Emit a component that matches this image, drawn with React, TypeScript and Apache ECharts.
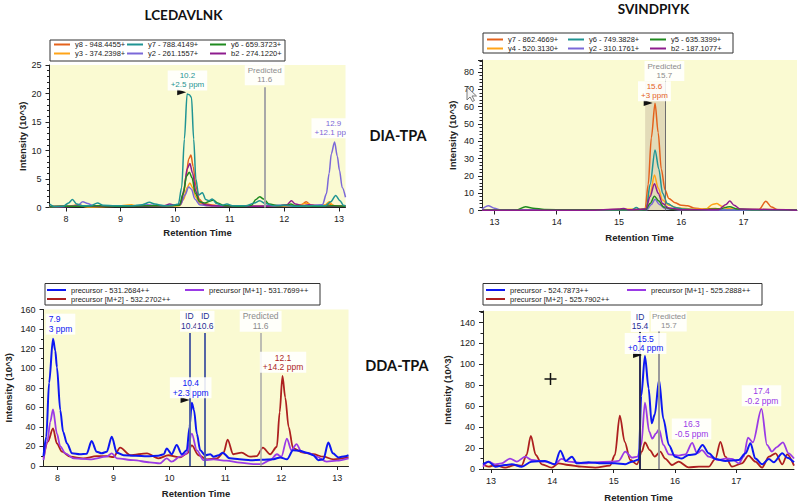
import React, { useEffect, useRef } from "react";
import * as echarts from "echarts";

type Pt = [number, number];
const FONT = '"Liberation Sans", Arial, sans-serif';
const TITLE_FONT = 'Lato, "Open Sans", sans-serif';

// ---------- Panel 1: DIA-TPA, LCEDAVLNK ----------
const p1Names = ["y8 - 948.4455+", "y3 - 374.2398+", "y7 - 788.4149+", "y2 - 261.1557+", "y6 - 659.3723+", "b2 - 274.1220+"];
const p1_y8: Pt[] = [[7.7,0.2],[7.9,0.3],[8.1,0.2],[8.22,0.5],[8.35,0.2],[8.7,0.2],[9.0,0.3],[9.3,0.2],[9.6,0.3],[9.9,0.3],[10.08,0.4],[10.15,2.2],[10.2,5.5],[10.25,8.5],[10.29,9.2],[10.33,7.2],[10.38,3.8],[10.44,1.5],[10.52,0.7],[10.65,0.5],[10.8,0.3],[11.2,0.2],[11.6,0.3],[12.0,0.2],[12.3,0.4],[12.4,1.0],[12.48,0.5],[12.7,0.2],[12.83,0.6],[12.92,0.3],[13.12,0.2]];
const p1_y3: Pt[] = [[7.7,0.1],[8.0,0.2],[8.2,0.4],[8.4,0.1],[8.9,0.2],[9.2,0.5],[9.3,0.2],[9.8,0.2],[10.08,0.3],[10.16,1.5],[10.22,3.5],[10.27,4.3],[10.32,3.5],[10.38,1.8],[10.45,0.7],[10.6,0.3],[11.0,0.2],[11.6,0.2],[12.2,0.3],[12.4,0.7],[12.55,0.3],[12.75,0.5],[12.82,1.0],[12.9,0.3],[13.12,0.2]];
const p1_y7: Pt[] = [[7.7,0.6],[7.78,0.2],[7.95,0.2],[8.05,0.8],[8.12,1.4],[8.2,0.6],[8.3,0.3],[8.45,0.3],[8.58,0.8],[8.68,0.4],[8.9,0.3],[9.2,0.3],[9.4,0.5],[9.53,0.9],[9.63,0.6],[9.8,0.3],[9.95,0.4],[10.06,0.6],[10.12,3.5],[10.17,12],[10.22,19.9],[10.26,19.8],[10.3,19.3],[10.34,12],[10.38,5],[10.43,2.2],[10.5,2.6],[10.56,1.4],[10.62,1.2],[10.68,1.5],[10.76,0.7],[10.85,0.4],[10.95,0.6],[11.05,0.3],[11.3,0.3],[11.45,0.8],[11.55,1.2],[11.65,0.7],[11.8,0.3],[12.0,0.4],[12.2,0.2],[12.5,0.3],[12.75,0.3],[12.85,1.0],[12.94,2.1],[13.02,1.2],[13.08,0.4],[13.12,0.3]];
const p1_y2: Pt[] = [[7.7,0.1],[8.1,0.2],[8.22,0.4],[8.31,1.0],[8.4,0.7],[8.5,0.3],[8.8,0.2],[9.2,0.2],[9.5,0.5],[9.6,0.4],[9.9,0.3],[10.1,0.5],[10.18,2.2],[10.25,3.6],[10.3,3.2],[10.36,1.5],[10.45,0.5],[10.6,0.3],[11.0,0.2],[11.5,0.2],[11.9,0.4],[12.2,0.3],[12.5,0.4],[12.7,0.5],[12.77,2.4],[12.82,6],[12.86,9.4],[12.92,11.5],[12.97,9],[13.01,6.5],[13.06,3.5],[13.12,1.8]];
const p1_y6: Pt[] = [[7.7,0.1],[8.0,0.2],[8.3,0.2],[8.6,0.3],[9.0,0.2],[9.5,0.3],[9.9,0.3],[10.08,0.4],[10.15,2.5],[10.21,5.5],[10.26,6.2],[10.31,5.2],[10.37,2.5],[10.45,1.0],[10.55,0.8],[10.63,1.1],[10.7,1.3],[10.78,0.8],[10.9,0.3],[11.2,0.2],[11.4,0.4],[11.48,1.4],[11.55,1.9],[11.62,1.5],[11.72,0.6],[11.9,0.3],[12.05,0.4],[12.12,0.6],[12.2,0.3],[12.6,0.2],[12.9,0.3],[13.12,0.2]];
const p1_b2: Pt[] = [[7.7,0.1],[8.2,0.2],[8.6,0.2],[9.0,0.3],[9.4,0.2],[9.8,0.3],[9.9,0.6],[10.0,0.4],[10.1,0.6],[10.16,3],[10.22,6.8],[10.27,7.7],[10.32,6],[10.38,2.8],[10.45,1.0],[10.55,0.5],[10.7,0.3],[11.0,0.2],[11.6,0.2],[11.9,0.3],[12.05,0.5],[12.13,1.2],[12.2,0.6],[12.35,0.3],[12.45,0.5],[12.6,0.2],[13.12,0.2]];

// ---------- Panel 2: DIA-TPA, SVINDPIYK ----------
const p2Names = ["y7 - 862.4669+", "y4 - 520.3130+", "y6 - 749.3828+", "y2 - 310.1761+", "y5 - 635.3399+", "b2 - 187.1077+"];
const p2_y7: Pt[] = [[12.8,0.3],[13.5,0.3],[14.5,0.4],[15.3,0.3],[15.42,1],[15.47,15],[15.52,42],[15.58,62],[15.63,45],[15.68,24],[15.74,12],[15.8,7],[15.9,4.5],[16.0,3],[16.1,2.8],[16.2,1.5],[16.35,0.8],[16.55,1.2],[16.7,0.6],[17.0,0.4],[17.25,0.5],[17.36,5.3],[17.45,2],[17.55,0.5],[17.86,0.3]];
const p2_y4: Pt[] = [[12.8,0.3],[13.7,0.4],[14.5,0.3],[15.42,0.8],[15.5,9],[15.57,20.5],[15.63,13],[15.7,6],[15.8,3],[15.95,1.5],[16.2,0.7],[16.4,0.8],[16.5,3.5],[16.57,4],[16.65,2.5],[16.75,1],[17.0,0.6],[17.86,0.3]];
const p2_y6: Pt[] = [[12.8,0.2],[13.6,0.3],[15.2,0.3],[15.28,1.7],[15.34,0.4],[15.44,1],[15.5,15],[15.58,35],[15.64,24],[15.7,10],[15.78,4],[15.9,1.8],[16.05,0.8],[16.3,0.4],[17.86,0.2]];
const p2_y2: Pt[] = [[12.8,0.8],[12.9,2.8],[13.0,1.3],[13.1,0.3],[15.45,0.5],[15.52,3.5],[15.58,6.5],[15.65,3.5],[15.75,1],[16.0,0.3],[17.86,0.2]];
const p2_y5: Pt[] = [[12.8,0.1],[13.35,0.3],[13.5,2.2],[13.62,1.3],[13.8,0.6],[14.2,0.4],[15.43,0.5],[15.5,4],[15.57,8.2],[15.64,5.5],[15.72,2],[15.85,0.7],[16.2,0.3],[16.6,0.8],[16.78,2.2],[16.9,0.8],[17.2,0.5],[17.86,0.3]];
const p2_b2: Pt[] = [[12.8,0.2],[14.5,0.2],[15.0,0.8],[15.08,1.2],[15.15,0.4],[15.43,0.8],[15.5,8],[15.57,15.5],[15.63,10],[15.7,4],[15.8,1.5],[16.0,0.5],[16.6,0.5],[16.72,3.5],[16.78,5.5],[16.85,3],[16.95,0.8],[17.86,0.2]];

// ---------- Panel 3: DDA-TPA, LCEDAVLNK ----------
const p3Names = ["precursor - 531.2684++", "precursor [M+2] - 532.2702++", "precursor [M+1] - 531.7699++"];
const p3_m0: Pt[] = [[7.75,10],[7.8,30],[7.85,85],[7.92,130],[7.96,118],[7.99,101],[8.05,57],[8.1,35],[8.17,23],[8.26,13],[8.4,12],[8.52,12.5],[8.61,25.5],[8.7,14.6],[8.79,13],[8.88,14.6],[8.97,30],[9.06,13.6],[9.18,11],[9.4,10.5],[9.6,10],[9.8,10.5],[9.9,12],[9.95,18],[10.04,12],[10.13,21.4],[10.22,12],[10.31,16],[10.36,40],[10.4,64.6],[10.44,57],[10.49,33],[10.55,16],[10.64,11],[10.73,12],[10.79,9.5],[10.88,11],[10.95,13.6],[11.08,7.8],[11.25,7],[11.45,6],[11.65,6.5],[11.86,7],[11.98,8.8],[12.1,6.8],[12.21,16],[12.33,15.6],[12.45,13.6],[12.57,11],[12.66,6],[12.75,6.8],[12.84,24],[12.92,13],[13.02,8.8],[13.14,10],[13.2,11]];
const p3_m1: Pt[] = [[7.75,6],[7.82,25],[7.87,45],[7.92,57.8],[7.99,33],[8.05,20],[8.14,13],[8.29,7.8],[8.58,6.8],[8.88,9.5],[8.97,13],[9.06,7.8],[9.36,6],[9.65,3.7],[9.83,2.7],[9.95,7.8],[10.04,4.4],[10.19,9.5],[10.31,13],[10.4,33],[10.49,16],[10.61,6],[10.79,6.8],[11.02,5.4],[11.26,3.4],[11.5,2],[11.65,2],[11.8,6],[11.92,12],[12.0,9.5],[12.1,28],[12.18,16],[12.27,22.4],[12.36,14.6],[12.51,13],[12.63,9.5],[12.81,4.4],[12.99,5.4],[13.2,7.8]];
const p3_m2: Pt[] = [[7.75,7.8],[7.83,25],[7.92,38.4],[7.99,23],[8.08,14.6],[8.23,9.5],[8.46,7.8],[8.7,10],[8.88,10],[9.0,9],[9.12,18.7],[9.3,11],[9.6,13],[9.8,7.8],[9.98,11],[10.19,8.8],[10.32,13],[10.4,21],[10.52,11],[10.67,6.8],[10.85,7.8],[10.97,14],[11.04,27],[11.14,12],[11.29,13.6],[11.44,9.5],[11.56,10],[11.67,18.7],[11.8,12],[11.92,19.7],[11.97,55],[12.02,92],[12.07,70],[12.13,40],[12.21,18],[12.39,13.6],[12.57,12],[12.75,9.5],[12.93,6.8],[13.2,8.8]];

// ---------- Panel 4: DDA-TPA, SVINDPIYK ----------
const p4Names = ["precursor - 524.7873++", "precursor [M+2] - 525.7902++", "precursor [M+1] - 525.2888++"];
const p4_m0: Pt[] = [[12.87,4.5],[12.96,7],[13.07,2.2],[13.23,3.8],[13.34,4.5],[13.5,2.2],[13.66,7],[13.88,7.7],[14.04,4.5],[14.13,17.5],[14.22,7.7],[14.32,11.8],[14.4,5.4],[14.59,6.4],[14.81,5.4],[15.02,5.4],[15.19,4.5],[15.3,7],[15.41,9],[15.45,70],[15.51,108],[15.57,77],[15.62,43.7],[15.67,52],[15.74,85],[15.81,48],[15.9,23],[16.0,11.8],[16.11,10],[16.22,13.4],[16.33,14],[16.45,23],[16.55,15],[16.66,9.6],[16.82,7.7],[17.04,8.6],[17.15,15],[17.23,24.5],[17.31,10],[17.42,4.5],[17.53,9.6],[17.61,6.4],[17.75,15],[17.83,10.8],[17.94,6.4]];
const p4_m1: Pt[] = [[12.87,2.2],[12.96,7],[13.07,4.5],[13.17,5.4],[13.31,10],[13.42,7],[13.56,11.8],[13.66,8.6],[13.88,7],[14.04,4.5],[14.15,9.6],[14.26,7],[14.53,5.4],[14.7,6.4],[14.97,7],[15.08,7.7],[15.19,16.6],[15.3,10.8],[15.39,11.8],[15.45,23],[15.51,63.5],[15.58,35.7],[15.63,29],[15.69,34],[15.74,38],[15.81,23],[15.9,14],[16.06,12.8],[16.17,14],[16.28,25],[16.36,15],[16.44,18],[16.55,11.8],[16.71,8.6],[16.82,10],[16.93,9.6],[17.04,5.4],[17.12,11.8],[17.19,30],[17.27,25.5],[17.41,57.4],[17.5,23],[17.58,16.6],[17.66,21],[17.76,25.5],[17.85,15],[17.94,10]];
const p4_m2: Pt[] = [[12.87,4.5],[12.96,2.2],[13.07,3.8],[13.23,1.3],[13.39,3.8],[13.5,3.2],[13.58,13.4],[13.65,31.6],[13.73,13.4],[13.83,4.5],[13.99,1.3],[14.1,5.4],[14.26,3.8],[14.48,2.2],[14.7,1.3],[14.94,3.2],[15.02,13.4],[15.1,51],[15.18,26],[15.27,8.6],[15.38,4.5],[15.46,16.6],[15.51,25.5],[15.59,18],[15.67,11.8],[15.76,16.6],[15.84,10],[15.95,3.8],[16.06,7],[16.22,1.6],[16.39,2.2],[16.55,2.2],[16.66,10],[16.74,26],[16.82,11.8],[16.93,2.2],[17.09,5.4],[17.2,12.8],[17.31,7],[17.42,1.3],[17.53,11.8],[17.64,15],[17.75,4.5],[17.83,14],[17.94,3.2]];

// axis ticks
const ticksLeft = [8, 9, 10, 11, 12, 13];
const ticksRight = [13, 14, 15, 16, 17];

// colors
const C = {
  orange: "#e4621c", gold: "#ffa418", teal: "#1f9493", lav: "#7b68d8", green: "#1f8a1f", purple: "#8e1c8e",
  blue: "#0d17f2", violet: "#9a3ae6", red: "#ad1f1f", gray: "#8c8c8c", navy: "#1f2f96",
};

function line(name: string, data: Pt[], color: string, gi: number, width: number, extra: any = {}) {
  return {
    type: "line", name, data, xAxisIndex: gi, yAxisIndex: gi, showSymbol: false, symbol: "none",
    smooth: 0.3, smoothMonotone: "x", color, itemStyle: { color }, lineStyle: { color, width }, silent: true,
    ...extra,
  };
}

function note(t: number, v: number, text: string, color: string, fs = 8, extra: any = {}) {
  return {
    coord: [t, v], symbol: "rect", symbolSize: 1, itemStyle: { color: "rgba(0,0,0,0)" },
    label: {
      show: true, position: "inside", formatter: text, color, fontSize: fs, lineHeight: fs + 1,
      fontFamily: FONT, backgroundColor: "rgba(255,255,255,0.88)", padding: [1, 3], ...extra,
    },
  };
}
function tri(t: number, v: number) {
  return { coord: [t, v], symbol: "triangle", symbolSize: [6, 9], symbolRotate: -90, itemStyle: { color: "#111" }, label: { show: false } };
}
function vline(t: number, top: number, color: string, width: number) {
  return [{ coord: [t, 0], lineStyle: { color, width, type: "solid" } }, { coord: [t, top] }];
}

function xAx(i: number, min: number, max: number, ticks: number[], nameGap: number) {
  return {
    type: "value", gridIndex: i, min, max, splitLine: { show: false },
    axisLine: { show: true, onZero: false, lineStyle: { color: "#222", width: 1 } },
    axisTick: { show: true, customValues: ticks, length: 4, lineStyle: { color: "#222" } },
    axisLabel: { customValues: ticks, fontSize: 9, color: "#222", margin: 7, fontFamily: FONT },
    name: "Retention Time", nameLocation: "middle", nameGap,
    nameTextStyle: { fontWeight: "bold", fontSize: 9.5, color: "#222", fontFamily: FONT },
  };
}
function yAx(i: number, max: number, interval: number, minorSplit: number, nameGap: number) {
  return {
    type: "value", gridIndex: i, min: 0, max, interval, splitLine: { show: false },
    axisLine: { show: true, onZero: false, lineStyle: { color: "#222", width: 1 } },
    axisTick: { show: true, length: 4, lineStyle: { color: "#222" } },
    minorTick: { show: true, splitNumber: minorSplit, length: 2.5, lineStyle: { color: "#222" } },
    axisLabel: {
      fontSize: 9, color: "#222", margin: 8, fontFamily: FONT,
      formatter: (v: number) => (Math.abs(v % interval) < 1e-6 ? String(v) : ""),
    },
    name: "Intensity (10^3)", nameLocation: "middle", nameRotate: 90, nameGap,
    nameTextStyle: { fontWeight: "bold", fontSize: 9.5, color: "#222", fontFamily: FONT },
  };
}
function leg(data: string[], left: number, top: number, itemWidth: number) {
  return {
    orient: "vertical", left, top, data, itemWidth, itemHeight: 2, itemGap: 0, padding: 0, icon: "rect",
    selectedMode: false, textStyle: { fontSize: 7.5, lineHeight: 9, color: "#222", fontFamily: FONT },
  };
}
function box(x: number, y: number, w: number, h: number) {
  return { type: "rect", shape: { x, y, width: w, height: h }, style: { fill: "#fff", stroke: "#333", lineWidth: 1 }, z: 0 };
}
function label(text: string, x: number, y: number, size: number) {
  return {
    type: "text", x, y, z: 10,
    style: { text, fill: "#111", fontSize: size, fontWeight: "bold", fontFamily: TITLE_FONT, align: "center", verticalAlign: "middle" },
  };
}

const grid = (left: number, top: number, width: number, height: number) => ({
  left, top, width, height, show: true, backgroundColor: "#fafad2", borderWidth: 0,
});

const option: any = {
  animation: false,
  backgroundColor: "#ffffff",
  grid: [grid(49.5, 65, 296, 142.5), grid(482, 60, 315, 150.5), grid(43.5, 309.5, 305, 156.5), grid(483, 311, 311, 158)],
  xAxis: [xAx(0, 7.7, 13.12, ticksLeft, 20), xAx(1, 12.8, 17.86, ticksRight, 21.5), xAx(2, 7.75, 13.2, ticksLeft, 22), xAx(3, 12.87, 17.94, ticksRight, 23)],
  yAxis: [yAx(0, 25, 5, 5, 19.5), yAx(1, 87, 10, 5, 25), yAx(2, 160, 20, 2, 30.5), yAx(3, 151, 20, 2, 31)],
  legend: [
    leg([p1Names[0], p1Names[1]], 54, 40, 16),
    leg([p1Names[2], p1Names[3]], 127, 40, 16),
    leg([p1Names[4], p1Names[5]], 210, 40, 16),
    leg([p2Names[0], p2Names[1]], 487, 35, 16),
    leg([p2Names[2], p2Names[3]], 568, 35, 16),
    leg([p2Names[4], p2Names[5]], 650, 35, 16),
    leg([p3Names[0], p3Names[1]], 47, 285.5, 19),
    leg([p3Names[2]], 185, 285.5, 19),
    leg([p4Names[0], p4Names[1]], 486, 285.5, 19),
    leg([p4Names[2]], 627, 285.5, 19),
  ],
  series: [
    // panel 1
    line(p1Names[0], p1_y8, C.orange, 0, 1.5, {
      markLine: { silent: true, z: 4, symbol: ["none", "none"], label: { show: false }, data: [vline(11.64, 21.1, "#a8a8a8", 2)] },
      markPoint: {
        silent: true,
        data: [
          note(11.64, 23.2, "Predicted\n11.6", C.gray),
          note(10.226, 22.3, "10.2\n+2.5 ppm", C.teal),
          tri(10.12, 20.2),
          note(12.9, 13.9, "12.9\n+12.1 ppm", C.lav),
        ],
      },
    }),
    line(p1Names[1], p1_y3, C.gold, 0, 1.5),
    line(p1Names[3], p1_y2, C.lav, 0, 1.5),
    line(p1Names[5], p1_b2, C.purple, 0, 1.5),
    line(p1Names[4], p1_y6, C.green, 0, 1.5),
    line(p1Names[2], p1_y7, C.teal, 0, 1.5),
    // panel 2
    line(p2Names[0], p2_y7, C.orange, 1, 1.5, {
      markArea: { silent: true, data: [[{ coord: [15.42, 0], itemStyle: { color: "rgba(150,120,110,0.24)" } }, { coord: [15.74, 74] }]] },
      markLine: { silent: true, z: 4, symbol: ["none", "none"], label: { show: false }, data: [vline(15.74, 76, "#6e6e6e", 1)] },
      markPoint: {
        silent: true,
        data: [
          note(15.73, 80.6, "Predicted\n15.7", C.gray),
          note(15.57, 69, "15.6\n+3 ppm", C.orange),
          tri(15.47, 62.1),
        ],
      },
    }),
    line(p2Names[1], p2_y4, C.gold, 1, 1.5),
    line(p2Names[2], p2_y6, C.teal, 1, 1.5),
    line(p2Names[3], p2_y2, C.lav, 1, 1.5),
    line(p2Names[4], p2_y5, C.green, 1, 1.5),
    line(p2Names[5], p2_b2, C.purple, 1, 1.5),
    // panel 3
    line(p3Names[1], p3_m2, C.red, 2, 1.8, {
      markLine: {
        silent: true, z: 4, symbol: ["none", "none"], label: { show: false },
        data: [vline(10.37, 136, "#5565a5", 2), vline(10.625, 136, "#5565a5", 2), vline(11.63, 136, "#a8a8a8", 1.5)],
      },
      markPoint: {
        silent: true,
        data: [
          note(11.63, 148, "Predicted\n11.6", C.gray, 8.5),
          note(10.355, 148, "ID\n10.4", C.navy, 8.5, { padding: [1, 1] }),
          note(10.64, 148, "ID\n10.6", C.navy, 8.5, { padding: [1, 1] }),
          note(7.78, 145, "7.9\n3 ppm", C.blue, 8.5, { position: "right", distance: 0, align: "left" }),
          note(12.03, 106, "12.1\n+14.2 ppm", C.red, 8.5),
          note(10.38, 80, "10.4\n+2.3 ppm", C.blue, 8.5),
          tri(10.28, 67.5),
        ],
      },
    }),
    line(p3Names[2], p3_m1, C.violet, 2, 1.8),
    line(p3Names[0], p3_m0, C.blue, 2, 2),
    // panel 4
    line(p4Names[1], p4_m2, C.red, 3, 1.8, {
      markLine: {
        silent: true, z: 4, symbol: ["none", "none"], label: { show: false },
        data: [vline(15.43, 132, "#2e2e55", 2), vline(15.74, 132, "#9a9a9a", 2)],
      },
      markPoint: {
        silent: true,
        data: [
          note(15.9, 141, "Predicted\n15.7", C.gray, 8, { padding: [1, 1] }),
          note(15.43, 141, "ID\n15.4", C.navy, 8.5, { backgroundColor: "#ffffff", padding: [1, 1] }),
          note(15.52, 120, "15.5\n+0.4 ppm", C.blue, 8.5),
          tri(15.39, 109),
          note(16.27, 38.3, "16.3\n-0.5 ppm", C.violet, 8.5),
          note(17.41, 70, "17.4\n-0.2 ppm", C.violet, 8.5),
        ],
      },
    }),
    line(p4Names[2], p4_m1, C.violet, 3, 1.8),
    line(p4Names[0], p4_m0, C.blue, 3, 2),
  ],
  graphic: [
    box(50, 40, 235, 21),
    box(483, 33, 250, 20),
    box(45, 283.5, 275, 21.5),
    box(483, 283.5, 279, 21.5),
    label("LCEDAVLNK", 183.5, 15, 13.5),
    label("SVINDPIYK", 653.5, 8.5, 13.5),
    label("DIA-TPA", 398, 135, 14.5),
    label("DDA-TPA", 397, 365, 14.5),
    // clip the overflowing annotation at the plot's right edge
    { type: "rect", z: 100, shape: { x: 346, y: 116, width: 20, height: 26 }, style: { fill: "#ffffff" } },
    // crosshair cursor
    { type: "line", z: 100, shape: { x1: 544.5, y1: 379, x2: 556.5, y2: 379 }, style: { stroke: "#111", lineWidth: 1.5 } },
    { type: "line", z: 100, shape: { x1: 550.5, y1: 373, x2: 550.5, y2: 385 }, style: { stroke: "#111", lineWidth: 1.5 } },
    // mouse pointer
    {
      type: "polygon", z: 100, x: 467, y: 87,
      shape: { points: [[0, 0], [0, 13], [3, 10], [5.5, 14.5], [7.5, 13.5], [5, 9], [9.5, 9]] },
      style: { fill: "#f4f4f4", stroke: "#7a7a7a", lineWidth: 1 },
    },
  ],
};

export default function App() {
  const ref = useRef<HTMLDivElement>(null);
  useEffect(() => {
    const chart = echarts.init(ref.current!, null, { renderer: "svg" });
    chart.setOption(option);
    return () => chart.dispose();
  }, []);
  return <div ref={ref} style={{ position: "absolute", left: 0, top: 0, width: 800, height: 504, background: "#fff" }} />;
}
